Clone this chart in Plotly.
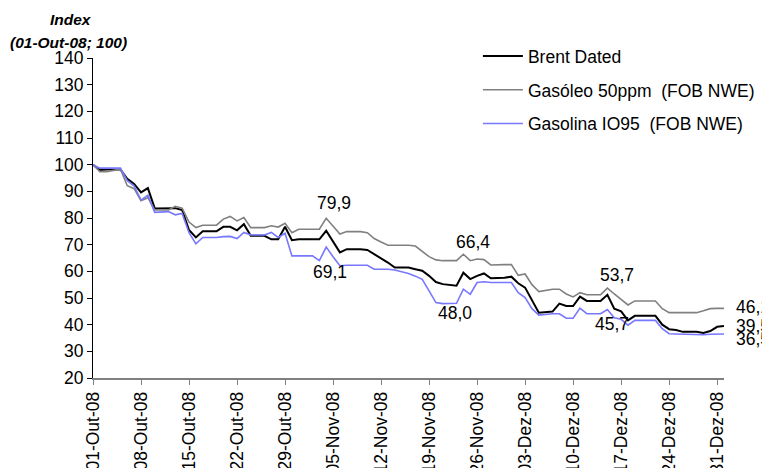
import plotly.graph_objects as go

# dias (fins de semana mantidos planos)
dates = ['2008-10-01', '2008-10-02', '2008-10-03', '2008-10-05', '2008-10-06', '2008-10-07',
         '2008-10-08', '2008-10-09', '2008-10-10', '2008-10-12', '2008-10-13', '2008-10-14',
         '2008-10-15', '2008-10-16', '2008-10-17', '2008-10-19', '2008-10-20', '2008-10-21',
         '2008-10-22', '2008-10-23', '2008-10-24', '2008-10-26', '2008-10-27', '2008-10-28',
         '2008-10-29', '2008-10-30', '2008-10-31', '2008-11-02', '2008-11-03', '2008-11-04',
         '2008-11-05', '2008-11-06', '2008-11-07', '2008-11-09', '2008-11-10', '2008-11-11',
         '2008-11-12', '2008-11-13', '2008-11-14', '2008-11-16', '2008-11-17', '2008-11-18',
         '2008-11-19', '2008-11-20', '2008-11-21', '2008-11-23', '2008-11-24', '2008-11-25',
         '2008-11-26', '2008-11-27', '2008-11-28', '2008-11-30', '2008-12-01', '2008-12-02',
         '2008-12-03', '2008-12-04', '2008-12-05', '2008-12-07', '2008-12-08', '2008-12-09',
         '2008-12-10', '2008-12-11', '2008-12-12', '2008-12-14', '2008-12-15', '2008-12-16',
         '2008-12-17', '2008-12-18', '2008-12-19', '2008-12-21', '2008-12-22', '2008-12-23',
         '2008-12-24', '2008-12-25', '2008-12-26', '2008-12-28', '2008-12-29', '2008-12-30',
         '2008-12-31', '2009-01-01']

brent = [100, 98.0, 98.2, 98.2, 94.7, 92.8, 89.6, 91.2, 83.6, 83.6, 83.7, 83.0,
         75.5, 72.7, 75.0, 75.0, 76.7, 76.7, 75.4, 77.7, 73.3, 73.3, 72.0, 72.0,
         76.7, 71.7, 72.0, 72.0, 72.0, 75.2, 71.0, 67.1, 68.3, 68.3, 68.0, 66.5,
         65.0, 63.3, 61.4, 61.4, 60.8, 60.2, 58.3, 56.0, 55.2, 54.6, 59.5, 57.1,
         58.3, 59.2, 57.4, 57.6, 58.0, 55.5, 53.9, 48.9, 44.5, 44.9, 47.9, 47.0,
         47.0, 50.5, 48.9, 48.9, 51.2, 46.0, 45.0, 41.6, 43.3, 43.3, 43.3, 40.0,
         38.3, 38.0, 37.3, 37.3, 36.9, 37.6, 39.2, 39.5]

gasoleo = [100, 97.4, 97.4, 98.3, 92.1, 91.0, 86.5, 87.6, 83.0, 83.0, 84.4, 83.7,
           78.5, 76.4, 77.3, 77.3, 79.6, 80.6, 78.9, 80.2, 76.4, 76.4, 77.1, 76.6,
           78.0, 74.5, 75.8, 75.8, 75.8, 79.9, 77.0, 74.0, 74.9, 74.9, 74.5, 72.3,
           71.0, 69.8, 69.8, 69.8, 69.5, 67.5, 65.5, 64.3, 64.0, 64.0, 66.4, 64.0,
           64.6, 64.4, 62.4, 62.5, 62.5, 58.5, 59.0, 55.0, 52.4, 53.3, 53.3, 51.5,
           50.4, 52.0, 51.2, 51.2, 53.7, 51.5, 49.5, 47.4, 48.9, 48.9, 48.9, 46.0,
           44.5, 44.5, 44.5, 44.5, 45.2, 46.0, 46.1, 46.1]

gasolina = [100, 98.7, 98.7, 98.7, 94.0, 92.0, 86.7, 88.5, 82.1, 82.4, 81.2, 81.7,
            74.5, 70.3, 72.7, 72.7, 73.0, 73.1, 72.3, 74.6, 73.6, 73.6, 74.6, 72.7,
            74.3, 65.8, 65.8, 65.8, 64.0, 69.1, 65.5, 62.1, 62.3, 62.3, 62.3, 60.8,
            60.8, 60.8, 60.5, 59.2, 58.2, 57.0, 52.7, 48.3, 47.9, 48.0, 53.3, 51.4,
            55.8, 56.1, 55.8, 55.8, 55.8, 52.0, 50.2, 46.0, 43.6, 44.1, 44.1, 42.4,
            42.4, 46.2, 44.1, 44.1, 45.7, 42.6, 42.0, 39.8, 41.6, 41.6, 41.6, 38.5,
            36.6, 36.5, 36.4, 36.4, 36.2, 36.4, 36.5, 36.5]

tick_dates = ['2008-10-01', '2008-10-08', '2008-10-15', '2008-10-22', '2008-10-29',
              '2008-11-05', '2008-11-12', '2008-11-19', '2008-11-26', '2008-12-03',
              '2008-12-10', '2008-12-17', '2008-12-24', '2008-12-31']
tick_labels = ['01-Out-08', '08-Out-08', '15-Out-08', '22-Out-08', '29-Out-08',
               '05-Nov-08', '12-Nov-08', '19-Nov-08', '26-Nov-08', '03-Dez-08',
               '10-Dez-08', '17-Dez-08', '24-Dez-08', '31-Dez-08']

FONT = 'Liberation Sans, Arial, sans-serif'
FS = 17.5
OFF = 8  # margem do body da página
FIG_H = 468 - OFF

fig = go.Figure()
fig.add_trace(go.Scatter(x=dates, y=brent, mode='lines', name='Brent Dated',
                         legendgroup='a', line=dict(color='black', width=2)))
fig.add_trace(go.Scatter(x=dates, y=gasoleo, mode='lines', name='Gasóleo 50ppm  (FOB NWE)',
                         legendgroup='b', line=dict(color='#808080', width=1.6)))
fig.add_trace(go.Scatter(x=dates, y=gasolina, mode='lines', name='Gasolina IO95  (FOB NWE)',
                         legendgroup='c', line=dict(color='#7777FF', width=1.6)))


def fmt(v):
    return f'{v:.1f}'.replace('.', ',')


# etiquetas de valores: (série, índice, deslocamento x, deslocamento y, âncora)
labels = [
    (gasoleo, 29, 8, 15, 'center'),
    (gasolina, 29, 4, -25, 'center'),
    (gasoleo, 46, 10, 12, 'center'),
    (gasolina, 45, -2, -10, 'center'),
    (gasoleo, 64, 10, 13, 'center'),
    (gasolina, 64, 5, -15, 'center'),
    (gasoleo, -1, 10, 1, 'left'),
    (brent, -1, 10, 0, 'left'),
    (gasolina, -1, 10, -5, 'left'),
]
for serie, i, dx, dy, anc in labels:
    fig.add_annotation(x=dates[i], y=serie[i], text=fmt(serie[i]), showarrow=False,
                       xshift=dx, yshift=dy, xanchor=anc, yanchor='middle',
                       font=dict(size=FS, color='black'))

# títulos do eixo y (posições em píxeis da janela convertidas para papel)
L, T, W, H = 93, 57.7, 631, 320
for txt, px, py in [('<b><i>Index</i></b>', 71, 19),
                    ('<b><i>(01-Out-08; 100)</i></b>', 68, 42)]:
    fig.add_annotation(x=(px - L) / W, y=1 + (T - py) / H, xref='paper', yref='paper',
                       text=txt, showarrow=False, xanchor='center', yanchor='middle',
                       font=dict(size=15.5, color='black'))

fig.update_layout(
    width=770 - OFF, height=FIG_H,
    margin=dict(l=93 - OFF, r=46, t=58 - OFF, b=FIG_H - (58 - OFF) - H, autoexpand=False),
    paper_bgcolor='white', plot_bgcolor='white',
    font=dict(family=FONT, size=FS, color='black'),
    showlegend=True,
    legend=dict(x=0.61, y=1.062, xanchor='left', yanchor='top',
                bgcolor='rgba(0,0,0,0)', tracegroupgap=8, itemwidth=40,
                font=dict(size=FS)),
)
fig.update_xaxes(type='date', range=['2008-10-01', '2009-01-01'], automargin=False,
                 tickvals=tick_dates, ticktext=tick_labels, tickangle=-90,
                 showline=True, linecolor='#808080', linewidth=1.5,
                 ticks='outside', ticklen=5, tickcolor='#808080',
                 showgrid=False, zeroline=False, tickfont=dict(size=FS))
fig.update_yaxes(range=[20, 140], dtick=10, automargin=False,
                 showline=True, linecolor='black', linewidth=1,
                 ticks='outside', ticklen=5, tickcolor='black',
                 showgrid=False, zeroline=False, tickfont=dict(size=FS))

fig.write_html('out.html')
